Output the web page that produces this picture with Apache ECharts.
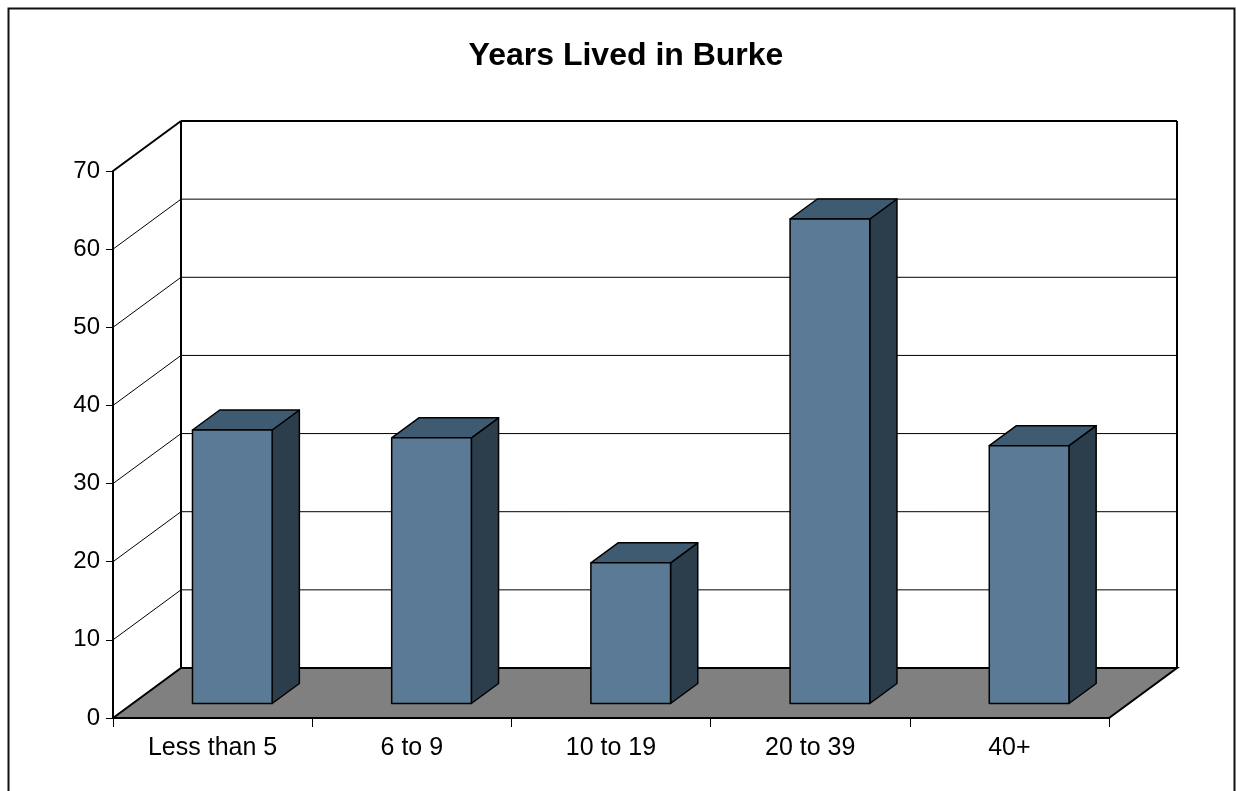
<!DOCTYPE html>
<html>
<head>
<meta charset="utf-8">
<script src="https://cdn.jsdelivr.net/npm/echarts@6/dist/echarts.min.js"></script>
<style>
html,body{margin:0;padding:0;background:#fff;}
#c{width:1236px;height:791px;}
</style>
</head>
<body>
<div id="c"></div>
<script>
const categories = ['Less than 5', '6 to 9', '10 to 19', '20 to 39', '40+'];
const values = [35, 34, 18, 62, 33];
const yMin = 0, yMax = 70, yStep = 10;
const titleText = 'Years Lived in Burke';

const DX = 68, DY = -50;          // depth offset of back wall
const D1 = 0.29, D2 = 0.69;       // bar front/back depth fraction
const FONT = 'Liberation Sans, Arial, sans-serif';

const chart = echarts.init(document.getElementById('c'));

function wallRender(params, api) {
  const cs = params.coordSys;
  const x0 = cs.x, w = cs.width;
  const yb = api.coord([0, yMin])[1];
  const yt = api.coord([0, yMax])[1];
  const children = [];
  children.push({
    type: 'polygon',
    shape: { points: [[x0, yb], [x0 + DX, yb + DY], [x0 + w + DX, yb + DY], [x0 + w, yb]] },
    style: { fill: '#808080', stroke: '#000', lineWidth: 2 }
  });
  for (let v = yMin + yStep; v < yMax; v += yStep) {
    const y = api.coord([0, v])[1];
    children.push({ type: 'line', shape: { x1: x0 + DX, y1: y + DY, x2: x0 + w + DX, y2: y + DY }, style: { stroke: '#000', lineWidth: 1 } });
    children.push({ type: 'line', shape: { x1: x0, y1: y, x2: x0 + DX, y2: y + DY }, style: { stroke: '#000', lineWidth: 1 } });
  }
  const thick = { stroke: '#000', lineWidth: 2 };
  children.push({ type: 'line', shape: { x1: x0, y1: yt, x2: x0 + DX, y2: yt + DY }, style: thick });
  children.push({ type: 'line', shape: { x1: x0 + DX, y1: yt + DY, x2: x0 + w + DX, y2: yt + DY }, style: thick });
  children.push({ type: 'line', shape: { x1: x0 + DX, y1: yt + DY, x2: x0 + DX, y2: yb + DY }, style: thick });
  children.push({ type: 'line', shape: { x1: x0 + w + DX, y1: yt + DY, x2: x0 + w + DX, y2: yb + DY }, style: thick });
  return { type: 'group', children: children };
}

function barRender(params, api) {
  const i = api.value(0);
  const v = api.value(1);
  const c0 = api.coord([i, 0]);
  const c1 = api.coord([i, v]);
  const bw = api.size([1, 0])[0] * 0.4;
  const xl = c0[0] - bw / 2, xr = c0[0] + bw / 2;
  const yb = c0[1], yt = c1[1];
  const ox1 = DX * D1, oy1 = DY * D1, ox2 = DX * D2, oy2 = DY * D2;
  const st = { stroke: '#000', lineWidth: 1.5, lineJoin: 'round' };
  return {
    type: 'group',
    children: [
      { type: 'polygon', shape: { points: [[xr + ox1, yt + oy1], [xr + ox2, yt + oy2], [xr + ox2, yb + oy2], [xr + ox1, yb + oy1]] }, style: Object.assign({ fill: '#2C3E4B' }, st) },
      { type: 'polygon', shape: { points: [[xl + ox1, yt + oy1], [xl + ox2, yt + oy2], [xr + ox2, yt + oy2], [xr + ox1, yt + oy1]] }, style: Object.assign({ fill: '#3F5B72' }, st) },
      { type: 'polygon', shape: { points: [[xl + ox1, yt + oy1], [xr + ox1, yt + oy1], [xr + ox1, yb + oy1], [xl + ox1, yb + oy1]] }, style: Object.assign({ fill: '#5A7A95' }, st) }
    ]
  };
}

chart.setOption({
  animation: false,
  backgroundColor: '#fff',
  title: {
    text: titleText,
    left: 621, top: 35, textAlign: 'center',
    textStyle: { fontFamily: FONT, fontSize: 32, fontWeight: 'bold', color: '#000' }
  },
  graphic: [{
    type: 'rect', z: 100,
    shape: { x: 8.5, y: 8.5, width: 1226, height: 800 },
    style: { fill: 'none', stroke: '#111', lineWidth: 2 }
  }],
  grid: { left: 113, right: 127, top: 171, bottom: 73 },
  xAxis: {
    type: 'category', data: categories, boundaryGap: true,
    axisLine: { show: true, lineStyle: { color: '#000', width: 2 } },
    axisTick: { show: true, length: 9, lineStyle: { color: '#000', width: 1 } },
    axisLabel: { color: '#000', fontFamily: FONT, fontSize: 25, margin: 18 },
    splitLine: { show: false }
  },
  yAxis: {
    type: 'value', min: yMin, max: yMax, interval: yStep,
    axisLine: { show: true, lineStyle: { color: '#000', width: 2 } },
    axisTick: { show: true, length: 7, lineStyle: { color: '#000', width: 1 } },
    axisLabel: { color: '#000', fontFamily: FONT, fontSize: 24, margin: 13 },
    splitLine: { show: false }
  },
  series: [
    { type: 'custom', renderItem: wallRender, data: [[0, 0]], clip: false, z: 1, silent: true },
    { type: 'custom', renderItem: barRender, data: values.map((v, i) => [i, v]), clip: false, z: 2, encode: { x: 0, y: 1 } }
  ]
});
</script>
</body>
</html>
